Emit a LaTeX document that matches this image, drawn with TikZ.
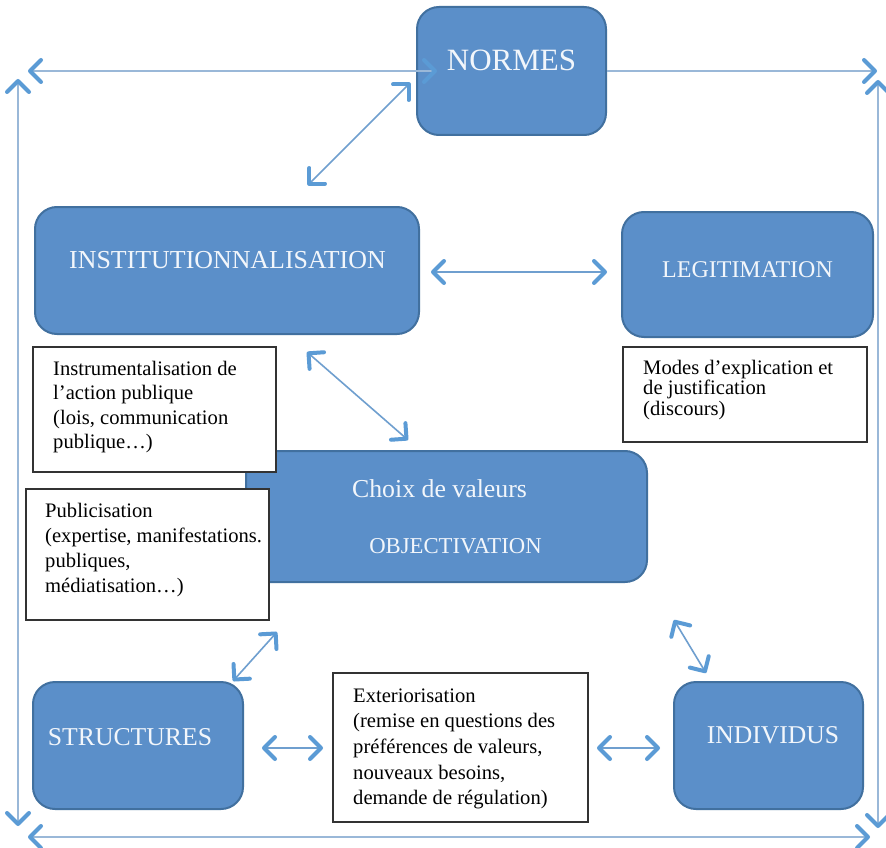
\documentclass[tikz,border=0pt]{standalone}
\usepackage{fontspec}
\setmainfont{Liberation Serif}
\usetikzlibrary{arrows.meta}
\definecolor{boxfill}{HTML}{5B8FC9}
\definecolor{boxline}{HTML}{41709F}
\definecolor{arr}{HTML}{5B9BD5}
\definecolor{shaft}{HTML}{6F9FCF}
\definecolor{framec}{HTML}{9AB8D8}
\definecolor{labtxt}{HTML}{F2F6FB}
\tikzset{
  chev/.tip={Straight Barb[length=11pt,width=22pt,line width=4pt,round,color=arr]},
  bluebox/.style={draw=boxline, line width=2pt, fill=boxfill, rounded corners=22pt, inner sep=0pt},
  whitebox/.style={draw=black!80, line width=1.6pt, fill=white, inner sep=0pt},
  lab/.style={text=labtxt, anchor=base, inner sep=0pt},
  para/.style={anchor=base west, inner sep=0pt, text=black},
  dbl/.style={draw=shaft, line width=1.6pt, chev-chev},
  frameline/.style={draw=framec, line width=2.2pt},
}
\begin{document}
\begin{tikzpicture}[x=1pt,y=-1pt]
\useasboundingbox (0,0) rectangle (886,848);
\fill[white] (0,0) rectangle (886,848);

% frame coordinates
\coordinate (tl) at (28,71);
\coordinate (tn) at (437,71);
\coordinate (tr) at (877,71);
\coordinate (lt) at (18,79);
\coordinate (lb) at (18,826);
\coordinate (rt) at (878,80);
\coordinate (rb) at (878,828);
\coordinate (bl) at (28,837);
\coordinate (br) at (870,837);

% frame lines
\draw[frameline, chev-chev] (lt) -- (lb);
\draw[frameline, chev-chev] (rt) -- (rb);
\draw[frameline, chev-chev] (bl) -- (br);

% blue boxes
\node[bluebox, minimum width=189pt, minimum height=128pt] (normes) at (511.5,71) {};
\node[bluebox, minimum width=384pt, minimum height=127pt] (inst) at (227,270.5) {};
\node[bluebox, minimum width=251pt, minimum height=125pt] (legit) at (747.5,274.5) {};
\node[bluebox, minimum width=401pt, minimum height=131pt] (choix) at (446.5,516.5) {};
\node[bluebox, minimum width=210pt, minimum height=127pt] (struct) at (138,745.5) {};
\node[bluebox, minimum width=189pt, minimum height=127pt] (indiv) at (768.5,745.5) {};

% white boxes
\node[whitebox, minimum width=243pt, minimum height=125pt] (instr) at (154.5,409.5) {};
\node[whitebox, minimum width=244pt, minimum height=95pt] (modes) at (745,394.5) {};
\node[whitebox, minimum width=243pt, minimum height=131pt] (pub) at (147.5,554.5) {};
\node[whitebox, minimum width=255pt, minimum height=149pt] (ext) at (460.5,747.5) {};

% labels in blue boxes
\node[lab, font=\fontsize{31}{36}\selectfont] (tnormes) at (511.5,71) {NORMES};
\node[lab, font=\fontsize{25.9}{30}\selectfont] (tinst) at (227.5,268) {INSTITUTIONNALISATION};
\node[lab, font=\fontsize{24}{30}\selectfont] (tlegit) at (747.5,277) {LEGITIMATION};
\node[lab, font=\fontsize{25.8}{30}\selectfont] (tchoix) at (439.5,497) {Choix de valeurs};
\node[lab, font=\fontsize{22.7}{30}\selectfont] (tobj) at (455.5,553) {OBJECTIVATION};
\node[lab, font=\fontsize{25.7}{30}\selectfont] (tstruct) at (130,745) {STRUCTURES};
\node[lab, font=\fontsize{25.6}{30}\selectfont] (tindiv) at (773,743) {INDIVIDUS};

% texts in white boxes
\node[para] (pinstr) at (53,375) {\fontsize{20.6}{24.6}\selectfont\parbox[t]{230pt}{\raggedright Instrumentalisation de\\ l’action publique\\ (lois, communication\\ publique…)}};
\node[para] (pmodes) at (643,374) {\fontsize{20.6}{20.7}\selectfont\parbox[t]{230pt}{\raggedright Modes d’explication et\\ de justification\\ (discours)}};
\node[para] (ppub) at (45,517) {\fontsize{20.6}{25}\selectfont\parbox[t]{230pt}{\raggedright Publicisation\\ (expertise, manifestations.\\ publiques,\\ médiatisation…)}};
\node[para] (pext) at (353,702) {\fontsize{20.6}{25.7}\selectfont\parbox[t]{230pt}{\raggedright Exteriorisation\\ (remise en questions des\\ préférences de valeurs,\\ nouveaux besoins,\\ demande de régulation)}};

% top frame line touching NORMES
\draw[frameline, chev-chev] (tl) -- (tn);
\draw[frameline, -chev] (normes.east) -- (tr);

% arrow end coordinates
\coordinate (a1) at (410,83);
\coordinate (a2) at (308,185);
\coordinate (b1) at (431,272);
\coordinate (b2) at (607,272);
\coordinate (c1) at (307,352);
\coordinate (c2) at (408,440);
\coordinate (d1) at (277,632);
\coordinate (d2) at (233,681);
\coordinate (e1) at (674,620);
\coordinate (e2) at (706,673);
\coordinate (f1) at (262,748);
\coordinate (f2) at (323,748);
\coordinate (g1) at (597,748);
\coordinate (g2) at (660,748);

\draw[dbl] (a1) -- (a2);
\draw[dbl] (b1) -- (b2);
\draw[dbl] (c1) -- (c2);
\draw[dbl] (d1) -- (d2);
\draw[dbl] (e1) -- (e2);
\draw[dbl] (f1) -- (f2);
\draw[dbl] (g1) -- (g2);
\end{tikzpicture}
\end{document}
